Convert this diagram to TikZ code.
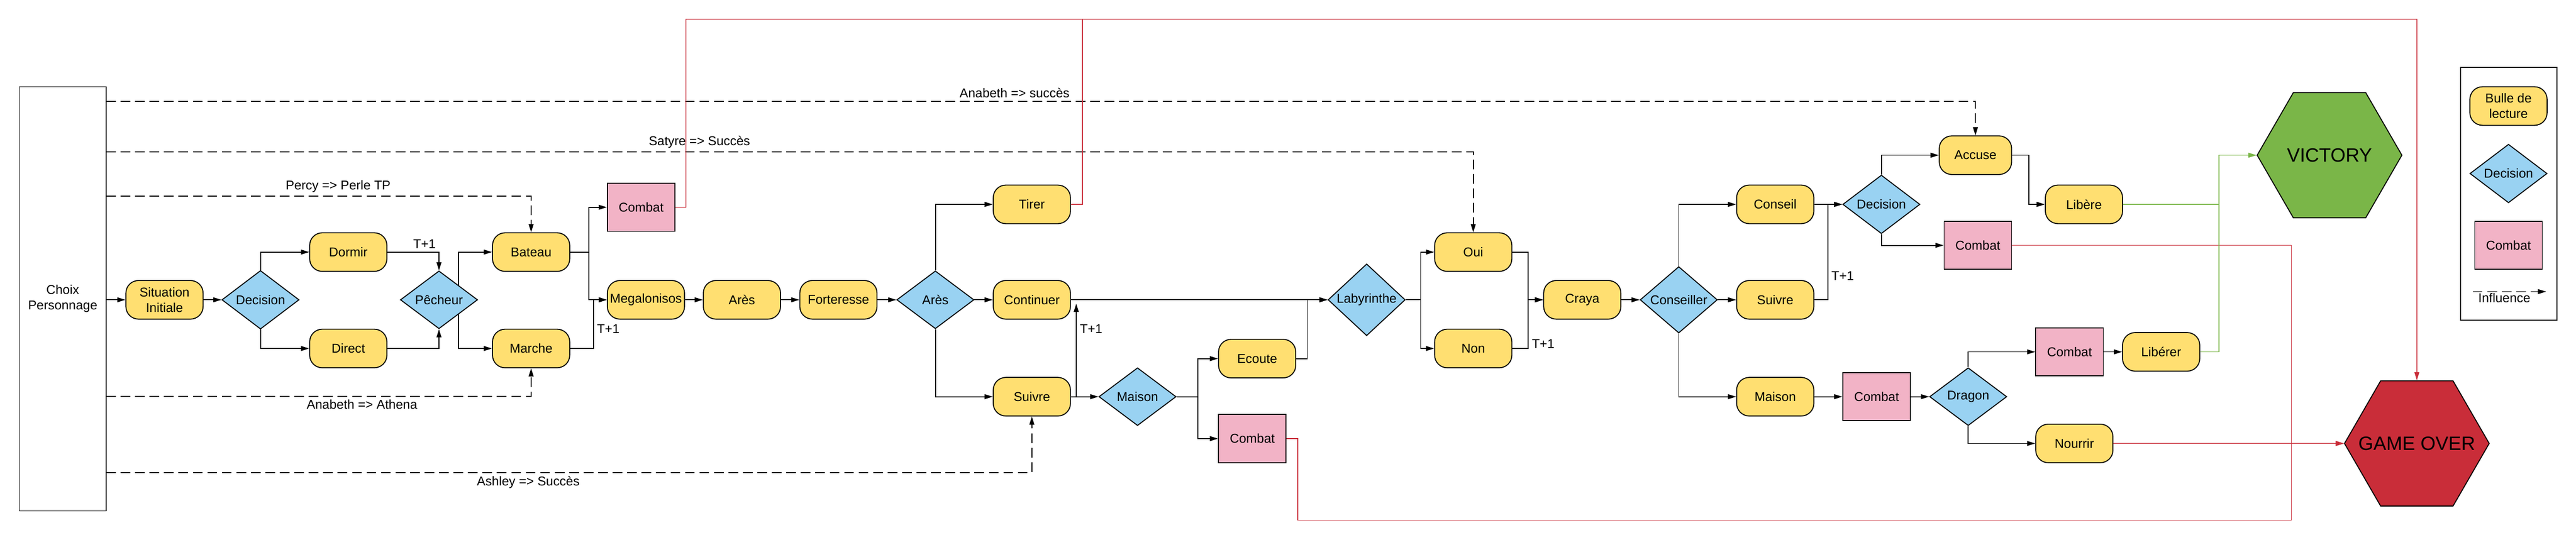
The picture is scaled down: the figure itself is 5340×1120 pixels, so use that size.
\documentclass[tikz,border=0pt]{standalone}
\usepackage{fontspec}
\setmainfont{Liberation Sans}
\usetikzlibrary{shapes.geometric,arrows.meta,calc}
\definecolor{bulleY}{HTML}{FFDF71}
\definecolor{choixB}{HTML}{99D2F2}
\definecolor{combatP}{HTML}{F2B3C6}
\definecolor{lucR}{HTML}{C92D39}
\definecolor{lucG}{HTML}{7AB648}
\begin{document}
\begin{tikzpicture}[x=0.5pt, y=-0.5pt, line width=1pt,
	every node/.style={font=\fontsize{13.3}{16}\selectfont, align=center},
	bulle/.style={draw, fill=bulleY, rectangle, rounded corners=13pt, minimum width=80pt, minimum height=40pt, inner xsep=2pt, inner ysep=2pt},
	choix/.style={draw, fill=choixB, diamond, minimum width=80pt, minimum height=60pt, inner sep=0pt},
	combat/.style={draw, fill=combatP, rectangle, minimum width=70pt, minimum height=50pt},
	hexa/.style={draw, regular polygon, regular polygon sides=6, minimum size=150pt, inner xsep=-30pt, inner ysep=0pt, font=\fontsize{20}{24}\selectfont},
	fin/.style={draw=lucR, line width=0.8pt},
	win/.style={draw=lucG, line width=0.8pt},
	influ/.style={dash pattern=on 10pt off 5pt},
	>={Triangle[length=8.5pt,width=5pt]}]
		\useasboundingbox (0,0) rectangle (5340,1120);
		
		\node[draw, minimum width=90pt, minimum height=440pt] at (130,620) (perso) {Choix\\Personnage};
		
		\node[bulle] at (341,622) (sit) {Situation\\Initiale};
		\node[choix] at (540,622) (dec1) {Decision};
		\node[bulle] at (722,523) (dormir) {Dormir};
		\node[bulle] at (722,723) (direct) {Direct};
		\node[choix] at (910,622) (pecheur) {Pêcheur};
		\node[bulle] at (1101,523) (bateau) {Bateau};
		\node[bulle] at (1101,723) (marche) {Marche};
		\node[combat] at (1329,430) (combatA) {Combat};
		\node[bulle] at (1339,622) (megalo) {Megalonisos};
		\node[bulle] at (1538,622) (ares) {Arès};
		\node[bulle] at (1738,622) (fort) {Forteresse};
		\node[choix] at (1939,622) (aresD) {Arès};
		\node[bulle] at (2139,424) (tirer) {Tirer};
		\node[bulle] at (2139,622) (continuer) {Continuer};
		\node[bulle] at (2139,823) (suivre) {Suivre};
		\node[choix] at (2358,823) (maison) {Maison};
		\node[bulle] at (2606,744) (ecoute) {Ecoute};
		\node[combat] at (2596,910) (combatB) {Combat};
		\node[choix] at (2833,622) (laby) {Labyrinthe};
		\node[bulle] at (3054,523) (oui) {Oui};
		\node[bulle] at (3054,723) (non) {Non};
		\node[bulle] at (3280,622) (craya) {Craya};
		\node[choix] at (3480,622) (conseiller) {Conseiller};
		\node[bulle] at (3680,424) (conseil) {Conseil};
		\node[bulle] at (3680,622) (suivreB) {Suivre};
		\node[bulle] at (3680,823) (maisonB) {Maison};
		\node[choix] at (3900,424) (decB) {Decision};
		\node[bulle, minimum width=75pt] at (4095,322) (accuse) {Accuse};
		\node[combat] at (4100,509) (combatC) {Combat};
		\node[bulle] at (4320,424) (libere) {Libère};
		\node[combat] at (3890,823) (combatD) {Combat};
		\node[choix] at (4080,823) (dragon) {Dragon};
		\node[combat] at (4290,730) (combatE) {Combat};
		\node[bulle] at (4480,730) (liberer) {Libérer};
		\node[bulle] at (4300,920) (nourrir) {Nourrir};
		\node[hexa, fill=lucG] at (4829,322) (victory) {VICTORY};
		\node[hexa, fill=lucR] at (5010,920) (gameover) {GAME OVER};
		
		% legende
		\node[draw, minimum width=99.5pt, minimum height=262pt] at (5200.5,402) (legende) {};
		\node[bulle] at (5200,220) (lgBulle) {Bulle de\\lecture};
		\node[choix] at (5200,360) (lgChoix) {Decision};
		\node[combat] at (5200,509) (lgCombat) {Combat};
		\coordinate (lgA) at (5126,605);
		\coordinate (lgB) at (5278,605);
		\draw[influ,->] (lgA) -- (lgB) node[pos=0.43, below, inner sep=1pt] {Influence};
		
		% influences
		\coordinate (inA) at (220,210);
		\coordinate (inS) at (220,315);
		\coordinate (inP) at (220,407);
		\coordinate (inAt) at (220,822);
		\coordinate (inAs) at (220,980);
		\draw[influ,->] (inA) -| node[pos=0.243, above] {Anabeth => succès} (accuse.north);
		\draw[influ,->] (inS) -| node[pos=0.217, above] {Satyre => Succès} (oui.north);
		\draw[influ,->] (inP) -| node[pos=0.273, above] {Percy => Perle TP} (bateau.north);
		\draw[influ,->] (inAt) -| node[pos=0.301, below] {Anabeth => Athena} (marche.south);
		\draw[influ,->] (inAs) -| node[pos=0.228, below] {Ashley => Succès} (suivre.south);
		
		\draw[->] (perso.east |- sit.west) -- (sit.west);
		\draw[->] (sit.east) -- (dec1.west);
		\draw[->] (dec1.north) |- (dormir.west);
		\draw[->] (dec1.south) |- (direct.west);
		\draw[->] (dormir.east) -| node[pos=0.36, above] {T+1} (pecheur.north);
		\draw[->] (direct.east) -| (pecheur.south);
		\draw[->] (pecheur.north east) |- (bateau.west);
		\draw[->] (pecheur.south east) |- (marche.west);
		\draw[->] (bateau.east) -- ++(39,0) |- (combatA.west);
		\draw[->] (bateau.east) -- ++(39,0) |- (megalo.west);
		\draw[->] (marche.east) -- ++(48,0) |- node[pos=0.2, right] {T+1} (megalo.west);
		\draw[->] (megalo) -- (ares);
		\draw[->] (ares) -- (fort);
		\draw[->] (fort) -- (aresD);
		\draw[->] (aresD.north) |- (tirer.west);
		\draw[->] (aresD.east) -- (continuer.west);
		\draw[->] (aresD.south) |- (suivre.west);
		\draw[->] (continuer.east) -- (laby.west);
		\draw[->] (suivre.east) -- (maison.west);
		\draw[->] (suivre.east) -- ++(11,0) -- node[pos=0.73, right] {T+1} ($(continuer.east)+(11,8)$);
		\draw[->] (maison.east) -- ++(44,0) |- (ecoute.west);
		\draw[->] (maison.east) -- ++(44,0) |- (combatB.west);
		\draw[->] (ecoute.east) -- ++(23,0) |- (laby.west);
		\draw[->] (laby.east) -- ++(31,0) |- (oui.west);
		\draw[->] (laby.east) -- ++(31,0) |- (non.west);
		\draw[->] (oui.east) -- ++(33,0) |- (craya.west);
		\draw[->] (non.east) -- ++(33,0) |- node[pos=0.05, right] {T+1} (craya.west);
		\draw[->] (craya) -- (conseiller);
		\draw[->] (conseiller.north) |- (conseil.west);
		\draw[->] (conseiller.east) -- (suivreB.west);
		\draw[->] (conseiller.south) |- (maisonB.west);
		\draw[->] (conseil.east) -- (decB.west);
		\draw[->] (suivreB.east) -- ++(28,0) |- node[pos=0.125, right] {T+1} (decB.west);
		\draw[->] (maisonB.east) -- (combatD.west);
		\draw[->] (combatD.east) -- (dragon.west);
		\draw[->] (decB.north) |- (accuse.west);
		\draw[->] (decB.south) |- (combatC.west);
		\draw[->] (accuse.east) -- ++(35,0) |- (libere.west);
		\draw[->] (dragon.north) |- (combatE.west);
		\draw[->] (dragon.south) |- (nourrir.west);
		\draw[->] (combatE) -- (liberer);
		
		% fins
		\coordinate (hautR) at (5010,40);
		\coordinate (basR) at (4750,1079);
		\coordinate (vert) at (4600,424);
		\draw[fin,->] (combatA.east) -- ++(22,0) |- (hautR) -- (gameover.north);
		\draw[fin] (tirer.east) -- ++(24,0) |- (hautR);
		\draw[fin,->] (combatB.east) -- ++(23,0) |- (basR) |- (gameover.west);
		\draw[fin] (combatC.east) -| (basR);
		\draw[fin,->] (nourrir.east) -- (gameover.west);
		\draw[win,->] (libere.east) -| (vert) |- (victory.west);
		\draw[win] (liberer.east) -| (vert);
\end{tikzpicture}
\end{document}
